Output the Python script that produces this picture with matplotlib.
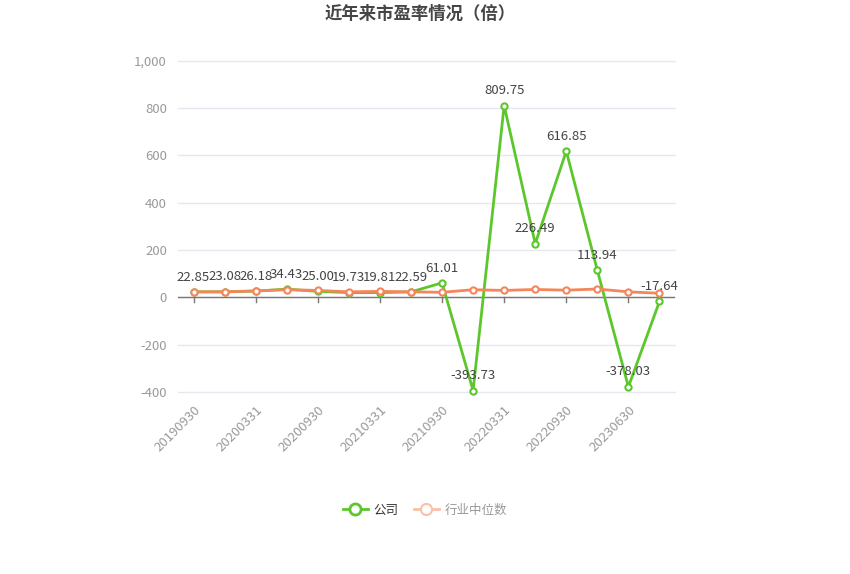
import matplotlib.pyplot as plt
from matplotlib.lines import Line2D
from matplotlib.ticker import FuncFormatter

plt.rcParams['font.family'] = ['Noto Sans CJK SC', 'DejaVu Sans']

dates = ['20190930', '20191231', '20200331', '20200630', '20200930', '20201231',
         '20210331', '20210630', '20210930', '20211231', '20220331', '20220630',
         '20220930', '20221231', '20230630', '20230930']
company = [22.85, 23.08, 26.18, 34.43, 25.00, 19.73, 19.81, 22.59, 61.01,
           -393.73, 809.75, 226.49, 616.85, 113.94, -378.03, -17.64]
industry = [23, 23, 27, 32, 29, 23, 25, 23, 21, 32, 29, 33, 30, 35, 23, 17]

green = '#5cc72c'
orange = '#f5855a'

fig = plt.figure(figsize=(8.5, 5.74), dpi=100)
ax = fig.add_axes([178 / 850, 1 - 392 / 574, (675 - 178) / 850, (392 - 60.5) / 574])

x = list(range(len(dates)))
ax.plot(x, company, color=green, lw=2, marker='o', ms=4.5, mfc='white',
        mew=1.5, mec=green, zorder=3, clip_on=False)
ax.plot(x, industry, color=orange, lw=2, marker='o', ms=4.5, mfc='white',
        mew=1.5, mec=orange, zorder=4, clip_on=False)

for i, v in enumerate(company):
    ax.annotate(f'{v:.2f}', (i, v), xytext=(0, 6), textcoords='offset points',
                ha='center', va='bottom', fontsize=9.5, color='#444444', zorder=5)

ax.set_xlim(-0.5, len(dates) - 0.5)
ax.set_ylim(-400, 1000)
ax.set_yticks([-400, -200, 0, 200, 400, 600, 800, 1000])
ax.yaxis.set_major_formatter(FuncFormatter(lambda v, p: f'{int(v):,}'))
ax.grid(axis='y', color='#e6e8f0', lw=1)
for gl in ax.get_ygridlines():
    gl.set_clip_on(False)
ax.set_axisbelow(True)
ax.axhline(0, color='#777777', lw=1, zorder=2)

for s in ax.spines.values():
    s.set_visible(False)

ax.set_xticks(x[::2])
ax.set_xticklabels(dates[::2], rotation=45, ha='right', rotation_mode='anchor',
                   fontsize=9.5, color='#999999')
ax.tick_params(axis='x', length=0, pad=8)
ax.tick_params(axis='y', length=0, pad=8, labelsize=9.5, labelcolor='#999999')
for xi in x[::2]:
    ax.plot([xi, xi], [0, -22], color='#777777', lw=1, zorder=2, clip_on=False)

fig.text(0.494, 1 - 14 / 574, '近年来市盈率情况（倍）', ha='center', va='center',
         fontsize=12.5, fontweight='bold', color='#464646')

handles = [Line2D([], [], color=green, lw=2, marker='o', ms=8, mfc='white', mew=2),
           Line2D([], [], color='#fbc0a6', lw=2, marker='o', ms=8, mfc='white', mew=1.5)]
leg = fig.legend(handles, ['公司', '行业中位数'], loc='center',
                 bbox_to_anchor=(0.5, 1 - 510 / 574), ncol=2, frameon=False,
                 fontsize=9, handlelength=2, columnspacing=1.2, handletextpad=0.5)
leg.get_texts()[0].set_color('#333333')
leg.get_texts()[1].set_color('#999999')

fig.savefig('out.png', dpi=100)
